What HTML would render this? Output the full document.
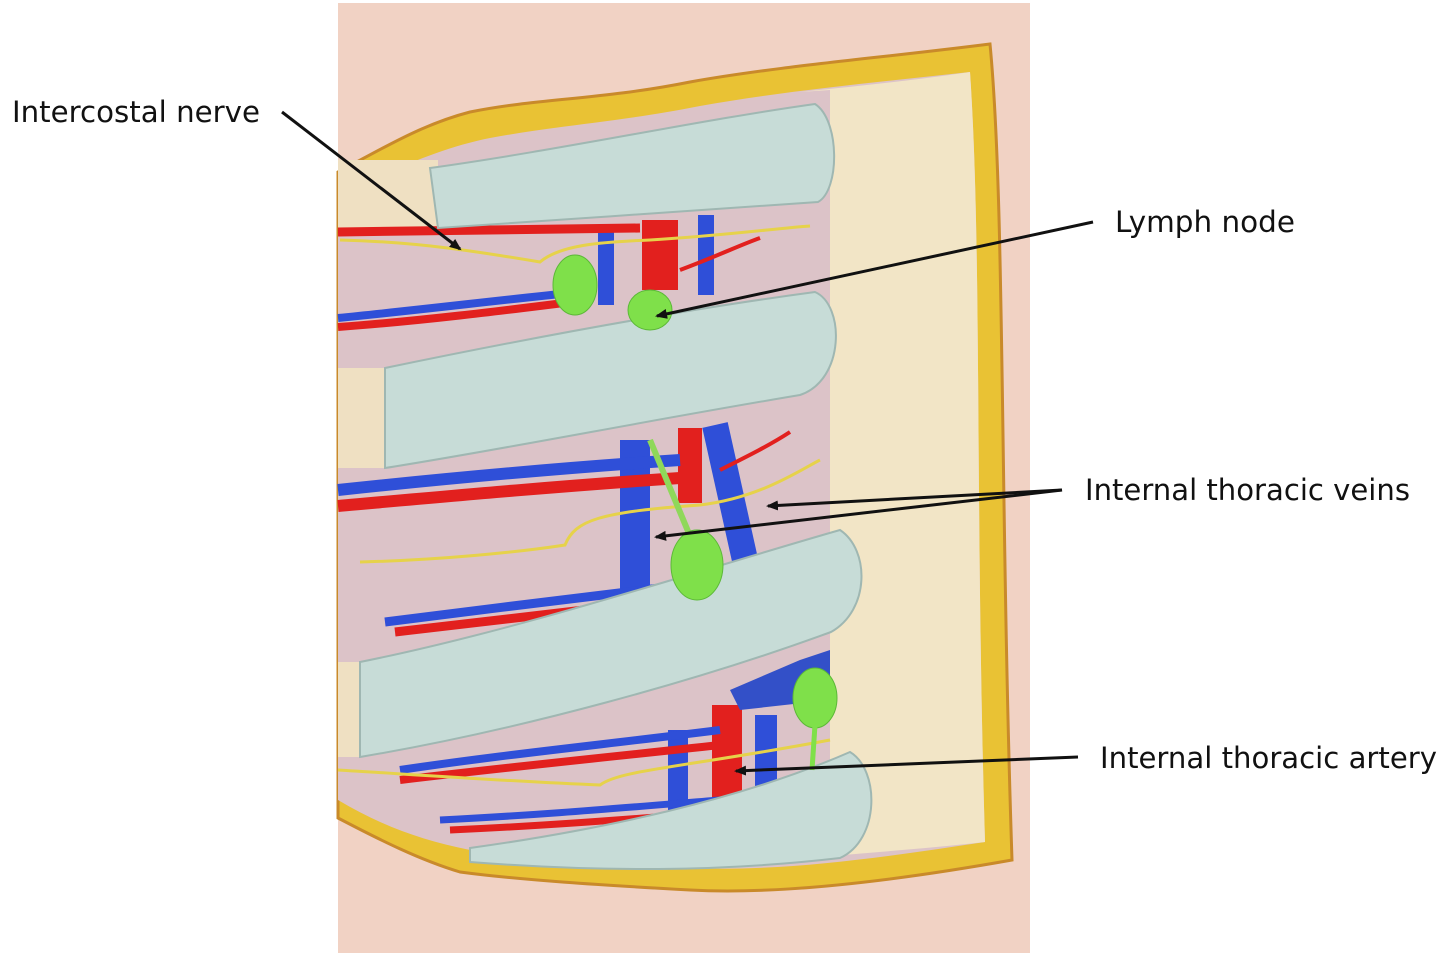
<!DOCTYPE html>
<html><head><meta charset="utf-8"><style>
html,body{margin:0;padding:0;background:#fff;width:1443px;height:960px;overflow:hidden}
svg{display:block}
text{font-family:"DejaVu Sans","Liberation Sans",sans-serif;font-size:29px;fill:#111}
</style></head><body>
<svg width="1443" height="960" viewBox="0 0 1443 960" xmlns="http://www.w3.org/2000/svg">
<defs>
<marker id="ah" markerWidth="12" markerHeight="10" refX="10" refY="5" orient="auto" markerUnits="userSpaceOnUse">
<path d="M0,0 L12,5 L0,10 Z" fill="#111"/></marker>
</defs>
<rect x="338" y="3" width="692" height="950" fill="#f1d2c4"/>
<path d="M338,172 C380,150 420,125 470,112 C540,98 600,100 690,82 C780,66 880,58 990,44 C1005,200 1000,500 1012,860 C900,880 780,895 690,890 C600,885 520,880 460,872 C420,860 380,840 338,818 Z" fill="#e9c234" stroke="#c98a2a" stroke-width="3"/>
<path d="M338,198 C390,170 440,148 490,138 C560,125 620,122 700,106 C790,90 880,82 970,72 C982,250 975,500 985,842 C880,858 780,872 690,868 C600,864 520,860 470,850 C420,840 380,825 338,800 Z" fill="#dcc3c8"/>
<path d="M800,92 C880,84 930,78 970,72 C982,250 975,500 985,842 C930,848 880,852 830,856 L830,90 Z" fill="#f2e5c6"/>
<rect x="338" y="160" width="100" height="68" fill="#efe0c2"/>
<rect x="338" y="368" width="50" height="100" fill="#efe0c2"/>
<rect x="338" y="662" width="25" height="95" fill="#efe0c2"/>
<rect x="598" y="225" width="16" height="80" fill="#2f4fd8"/>
<rect x="642" y="220" width="36" height="70" fill="#e2201e"/>
<rect x="698" y="215" width="16" height="80" fill="#2f4fd8"/>
<path d="M338,232 L640,228" stroke="#e2201e" stroke-width="9" fill="none"/>
<path d="M338,318 C420,310 500,300 580,292" stroke="#2f4fd8" stroke-width="8" fill="none"/>
<path d="M338,327 C420,321 500,311 580,301" stroke="#e2201e" stroke-width="8" fill="none"/>
<path d="M680,270 C720,255 740,245 760,238" stroke="#e2201e" stroke-width="4" fill="none"/>
<path d="M340,240 C420,242 480,252 540,262 C560,245 600,242 650,240 C720,236 780,228 810,226" stroke="#e6d24a" stroke-width="3" fill="none"/>
<rect x="620" y="440" width="30" height="185" fill="#2f4fd8"/>
<rect x="678" y="428" width="24" height="75" fill="#e2201e"/>
<path d="M715,425 L745,560" stroke="#2f4fd8" stroke-width="26" fill="none"/>
<path d="M338,490 C450,478 560,468 680,460" stroke="#2f4fd8" stroke-width="12" fill="none"/>
<path d="M338,506 C450,496 560,486 680,478" stroke="#e2201e" stroke-width="12" fill="none"/>
<path d="M385,622 C480,610 560,600 660,588" stroke="#2f4fd8" stroke-width="9" fill="none"/>
<path d="M395,632 C480,622 570,612 670,600" stroke="#e2201e" stroke-width="9" fill="none"/>
<path d="M720,470 C750,455 770,445 790,432" stroke="#e2201e" stroke-width="4" fill="none"/>
<path d="M360,562 C440,560 520,552 565,545 C575,520 600,512 700,505 C760,498 800,470 820,460" stroke="#e6d24a" stroke-width="3" fill="none"/>
<path d="M650,440 L700,560" stroke="#8fd85a" stroke-width="6" fill="none"/>
<rect x="712" y="705" width="30" height="115" fill="#e2201e"/>
<rect x="755" y="715" width="22" height="100" fill="#2f4fd8"/>
<rect x="668" y="730" width="20" height="100" fill="#2f4fd8"/>
<path d="M400,770 C500,755 600,745 720,730" stroke="#2f4fd8" stroke-width="8" fill="none"/>
<path d="M400,780 C500,768 600,758 720,745" stroke="#e2201e" stroke-width="8" fill="none"/>
<path d="M440,820 C540,815 620,808 720,800" stroke="#2f4fd8" stroke-width="7" fill="none"/>
<path d="M450,830 C540,826 620,820 720,812" stroke="#e2201e" stroke-width="7" fill="none"/>
<path d="M338,770 C420,775 520,782 600,785 C620,770 680,768 830,740" stroke="#e6d24a" stroke-width="3" fill="none"/>
<path d="M730,690 L800,660 L830,650 L830,700 L740,710 Z" fill="#3350c8"/>
<path d="M430,168 C560,150 700,120 815,104 C840,120 840,190 818,202 C700,210 560,220 438,228 Z" fill="#c7dcd7" stroke="#9fb7b2" stroke-width="2"/>
<path d="M385,368 C520,340 680,310 815,292 C845,305 845,380 800,395 C650,420 500,450 385,468 Z" fill="#c7dcd7" stroke="#9fb7b2" stroke-width="2"/>
<path d="M360,662 C520,630 700,570 840,530 C870,550 870,610 831,632 C700,680 520,730 360,757 Z" fill="#c7dcd7" stroke="#9fb7b2" stroke-width="2"/>
<path d="M470,848 C600,830 740,800 850,752 C880,770 880,840 840,858 C720,872 600,872 470,862 Z" fill="#c7dcd7" stroke="#9fb7b2" stroke-width="2"/>
<ellipse cx="575" cy="285" rx="22" ry="30" fill="#7fe04a" stroke="#5cb838"/>
<ellipse cx="650" cy="310" rx="22" ry="20" fill="#7fe04a" stroke="#5cb838"/>
<ellipse cx="697" cy="565" rx="26" ry="35" fill="#7fe04a" stroke="#5cb838"/>
<ellipse cx="815" cy="698" rx="22" ry="30" fill="#7fe04a" stroke="#5cb838"/>
<path d="M815,725 L812,770" stroke="#7fe04a" stroke-width="5"/>
<text x="12" y="122" textLength="248" lengthAdjust="spacingAndGlyphs">Intercostal nerve</text>
<text x="1115" y="232" textLength="180" lengthAdjust="spacingAndGlyphs">Lymph node</text>
<text x="1085" y="500" textLength="325" lengthAdjust="spacingAndGlyphs">Internal thoracic veins</text>
<text x="1100" y="768" textLength="337" lengthAdjust="spacingAndGlyphs">Internal thoracic artery</text>
<g stroke="#111" stroke-width="3" fill="none">
<line x1="282" y1="112" x2="460" y2="249" marker-end="url(#ah)"/>
<line x1="1093" y1="222" x2="657" y2="316" marker-end="url(#ah)"/>
<line x1="1062" y1="490" x2="768" y2="506" marker-end="url(#ah)"/>
<line x1="1062" y1="490" x2="656" y2="537" marker-end="url(#ah)"/>
<line x1="1078" y1="757" x2="736" y2="771" marker-end="url(#ah)"/>
</g>
</svg>
</body></html>
